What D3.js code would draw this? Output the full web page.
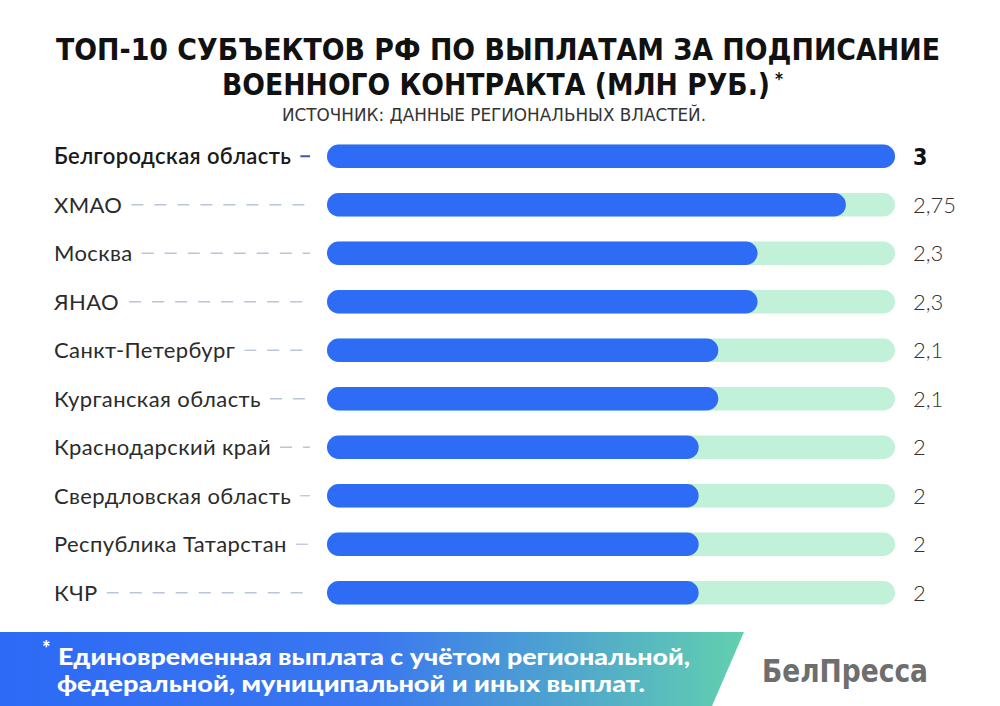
<!DOCTYPE html>
<html><head><meta charset="utf-8">
<script src="https://cdn.jsdelivr.net/npm/d3@7"></script>
<style>html,body{margin:0;padding:0;background:#fff;}svg{display:block;}</style>
</head><body>
<script>
const categories = ["Белгородская область","ХМАО","Москва","ЯНАО","Санкт-Петербург","Курганская область","Краснодарский край","Свердловская область","Республика Татарстан","КЧР"];
const values = [3, 2.75, 2.3, 2.3, 2.1, 2.1, 2, 2, 2, 2];
const valueLabels = ["3","2,75","2,3","2,3","2,1","2,1","2","2","2","2"];
const maxValue = 3;

const W = 1000, H = 706;
const svg = d3.select("body").append("svg").attr("width", W).attr("height", H);
const defs = svg.append("defs");
const grad = defs.append("linearGradient").attr("id","fg").attr("x1","0").attr("x2","1").attr("y1","0").attr("y2","0");
grad.append("stop").attr("offset","0").attr("stop-color","#2d6af6");
grad.append("stop").attr("offset","0.5").attr("stop-color","#3a77f0");
grad.append("stop").attr("offset","1").attr("stop-color","#62d0ae");

// Title
const titleFont = "'DejaVu Sans Condensed','DejaVu Sans',sans-serif";
svg.append("text").attr("x",498).attr("y",60).attr("text-anchor","middle")
  .attr("font-family",titleFont).attr("font-weight","bold").attr("font-size",30)
  .attr("fill","#111").attr("textLength",884).attr("lengthAdjust","spacingAndGlyphs")
  .text("ТОП-10 СУБЪЕКТОВ РФ ПО ВЫПЛАТАМ ЗА ПОДПИСАНИЕ");
svg.append("text").attr("x",222).attr("y",95)
  .attr("font-family",titleFont).attr("font-weight","bold").attr("font-size",30)
  .attr("fill","#111").attr("textLength",548).attr("lengthAdjust","spacingAndGlyphs")
  .text("ВОЕННОГО КОНТРАКТА (МЛН РУБ.)");
svg.append("text").attr("x",775).attr("y",85)
  .attr("font-family",titleFont).attr("font-weight","bold").attr("font-size",17).attr("fill","#111").text("*");
svg.append("text").attr("x",494).attr("y",121).attr("text-anchor","middle")
  .attr("font-family","'Liberation Sans Narrow','DejaVu Sans Condensed',sans-serif").attr("font-size",17)
  .attr("fill","#333").attr("textLength",424).attr("lengthAdjust","spacingAndGlyphs")
  .text("ИСТОЧНИК: ДАННЫЕ РЕГИОНАЛЬНЫХ ВЛАСТЕЙ.");

// Scales
const trackStart = 327, trackEnd = 895;
const x = d3.scaleLinear().domain([0, maxValue]).range([306, trackEnd]);
const y = d3.scaleBand().domain(categories).range([132, 617]).paddingInner(0.52).paddingOuter(0.26);
const bh = y.bandwidth();

const rows = svg.append("g").selectAll("g").data(categories).join("g")
  .attr("transform", d => `translate(0,${y(d)})`);

// tracks
rows.append("rect").attr("x",trackStart).attr("y",0).attr("width",trackEnd-trackStart).attr("height",bh)
  .attr("rx",bh/2).attr("fill","#c2f1da");
// bars
rows.append("rect").attr("x",trackStart).attr("y",0)
  .attr("width",(d,i)=>x(values[i])-trackStart).attr("height",bh)
  .attr("rx",bh/2).attr("fill","#2f6cf6");

// labels
const labelFont = "Lato, 'Noto Sans', sans-serif";
const labels = rows.append("text").attr("x",54).attr("y",bh/2).attr("dy","0.36em")
  .attr("font-family",labelFont).attr("font-size",22).attr("letter-spacing",0.4)
  .attr("font-weight",(d,i)=>i===0?"600":"400")
  .attr("fill",(d,i)=>i===0?"#1a1a1a":"#2b2b2b")
  .text(d=>d);

// dashed leaders
labels.each(function(d,i){
  const w = this.getBBox().width;
  const g = d3.select(this.parentNode);
  const x0 = 54 + w + 9, x1 = 310;
  if (x1 > x0) {
    g.append("line").attr("x1",x0).attr("x2",x1).attr("y1",bh/2).attr("y2",bh/2)
      .attr("stroke", i===0 ? "#3a5aa8" : "#b9c5d8").attr("stroke-width", i===0?2:1.3)
      .attr("stroke-dasharray","12,11");
  }
});

// values
rows.append("text").attr("x",913).attr("y",bh/2).attr("dy","0.36em")
  .attr("font-family",(d,i)=>i===0?"'DejaVu Sans Condensed',sans-serif":labelFont)
  .attr("font-size",(d,i)=>i===0?23:22)
  .attr("font-weight",(d,i)=>i===0?"bold":"300")
  .attr("fill",(d,i)=>i===0?"#111":"#333")
  .text((d,i)=>valueLabels[i]);

// footer band
svg.append("path").attr("d","M0,632 L744,632 L712,706 L0,706 Z").attr("fill","url(#fg)");
const footFont = "Lato, 'Noto Sans', sans-serif";
svg.append("text").attr("x",42).attr("y",656).attr("font-family",footFont).attr("font-weight","900")
  .attr("font-size",20).attr("fill","#fff").text("*");
svg.append("text").attr("x",58).attr("y",665).attr("font-family",footFont).attr("font-weight","900")
  .attr("font-size",23).attr("fill","#fff").attr("textLength",632).attr("lengthAdjust","spacingAndGlyphs")
  .text("Единовременная выплата с учётом региональной,");
svg.append("text").attr("x",57).attr("y",692).attr("font-family",footFont).attr("font-weight","900")
  .attr("font-size",23).attr("fill","#fff").attr("textLength",588).attr("lengthAdjust","spacingAndGlyphs")
  .text("федеральной, муниципальной и иных выплат.");

// logo
svg.append("text").attr("x",762).attr("y",682).attr("font-family","'DejaVu Sans Condensed',sans-serif")
  .attr("font-weight","bold").attr("font-size",32).attr("fill","#6e6e6e")
  .attr("textLength",166).attr("lengthAdjust","spacingAndGlyphs").text("БелПресса");
</script>
</body></html>
